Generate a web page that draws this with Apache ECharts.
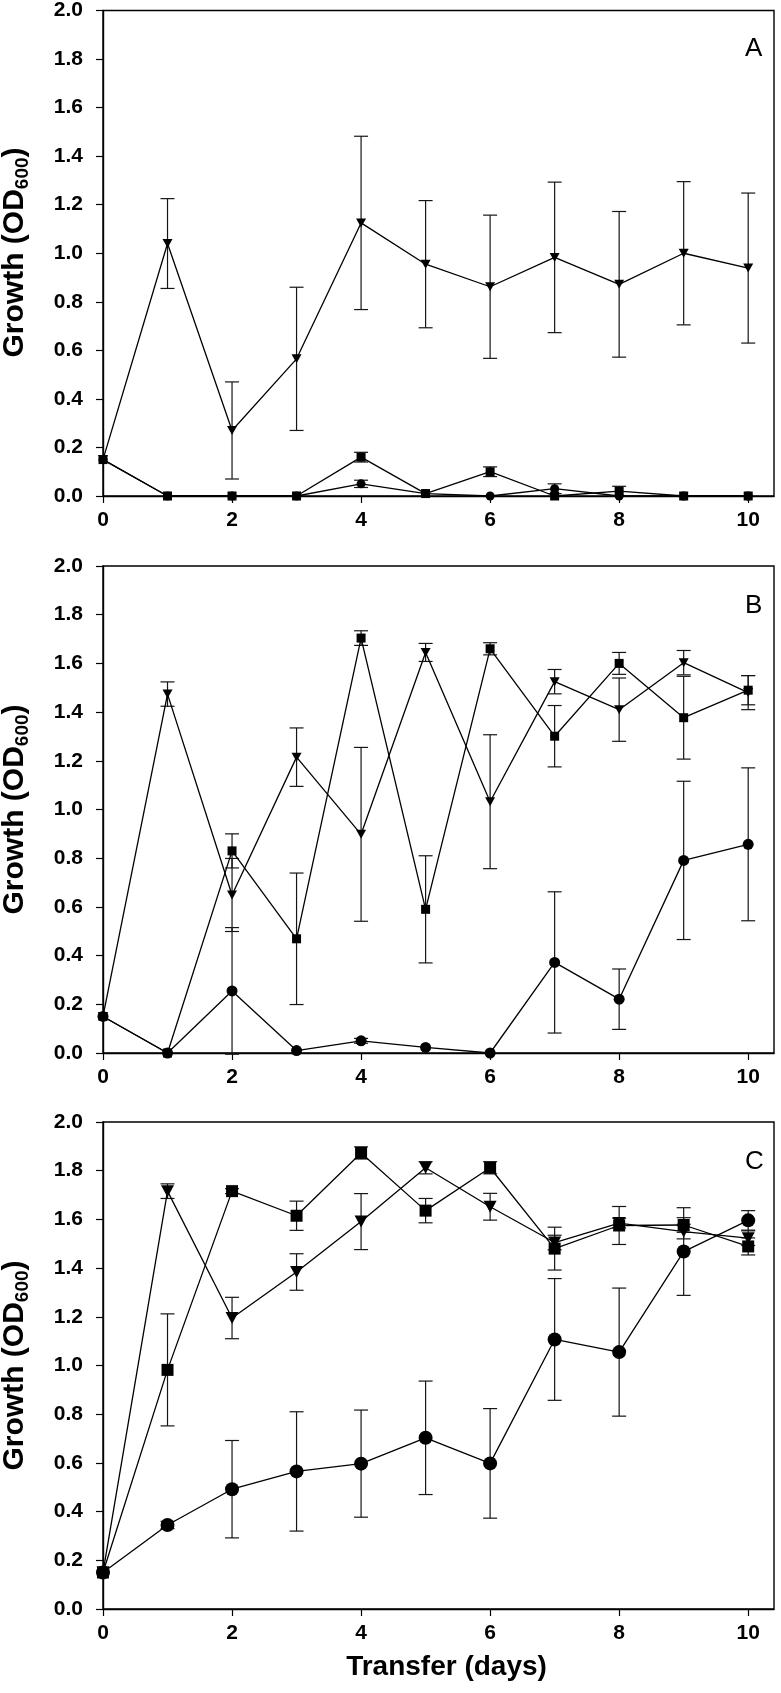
<!DOCTYPE html>
<html><head><meta charset="utf-8">
<script src="https://cdn.jsdelivr.net/npm/echarts@6/dist/echarts.min.js"></script>
<style>html,body{margin:0;padding:0;background:#fff}#c{width:781px;height:1693px}</style>
</head><body><div id="c"></div>
<script>
// ---- data ----
const days = [0,1,2,3,4,5,6,7,8,9,10];
const xTicks = [0,2,4,6,8,10];
const panelLabels = ['A','B','C'];
const yTitle = ['Growth (OD', '600', ')'];
const xTitle = 'Transfer (days)';

// Panel A
const aCircle   = [0.15,0.00,0.00,0.00,0.05,0.01,0.00,0.03,0.00,0.00,0.00];
const aCircleSd = [0,0,0,0,0.015,0,0,0.02,0,0,0];
const aSquare   = [0.15,0.00,0.00,0.00,0.16,0.01,0.10,0.00,0.02,0.00,0.00];
const aSquareSd = [0,0,0,0,0.02,0,0.02,0,0.02,0,0];
const aTri      = [0.15,1.04,0.27,0.565,1.125,0.955,0.862,0.983,0.872,1.00,0.939];
const aTriSd    = [0,0.185,0.20,0.295,0.357,0.262,0.295,0.31,0.30,0.295,0.309];

// Panel B
const bCircle   = [0.15,0.00,0.255,0.01,0.05,0.023,0.00,0.372,0.221,0.791,0.857];
const bCircleSd = [0,0,0.26,0,0.01,0,0,0.29,0.124,0.325,0.314];
const bSquare   = [0.15,0.00,0.83,0.469,1.704,0.59,1.66,1.301,1.60,1.377,1.49];
const bSquareSd = [0,0,0.07,0.27,0.03,0.22,0.025,0.126,0.045,0.17,0.06];
const bTri      = [0.15,1.474,0.649,1.215,0.898,1.645,1.032,1.525,1.41,1.603,1.48];
const bTriSd    = [0,0.05,0.15,0.12,0.357,0.037,0.275,0.05,0.13,0.05,0.07];

// Panel C
const cCircle   = [0.15,0.345,0.492,0.565,0.597,0.703,0.598,1.107,1.055,1.468,1.596];
const cCircleSd = [0,0.015,0.20,0.245,0.22,0.233,0.225,0.25,0.263,0.18,0.04];
const cSquare   = [0.15,0.982,1.716,1.615,1.873,1.636,1.812,1.48,1.575,1.577,1.489];
const cSquareSd = [0,0.23,0.01,0.06,0.025,0.05,0.025,0.088,0.078,0.03,0.035];
const cTri      = [0.15,1.716,1.195,1.384,1.591,1.812,1.652,1.505,1.585,1.55,1.523];
const cTriSd    = [0,0.03,0.085,0.075,0.115,0.025,0.055,0.03,0.02,0.03,0.03];

// ---- layout / style ----
const FONT = 'Liberation Sans, Arial, sans-serif';
const panels = [
  {series:[[aCircle,aCircleSd],[aSquare,aSquareSd],[aTri,aTriSd]], sizes:[9,9,[10,9]]},
  {series:[[bCircle,bCircleSd],[bSquare,bSquareSd],[bTri,bTriSd]], sizes:[11,9,[10,9]]},
  {series:[[cCircle,cCircleSd],[cSquare,cSquareSd],[cTri,cTriSd]], sizes:[14,12,[13,12]]}
];
const symbols = ['circle','rect','triangle'];
const rotations = [0,0,180];
const tops = [9,566,1122];
const gridLeft = 103, gridWidth = 671, gridHeight = 487;

const grids = [], xAxes = [], yAxes = [], series = [], graphics = [];

function errSeries(g, vals, sds){
  const data = [];
  vals.forEach((v,i)=>{ if (sds[i] > 0) data.push([days[i], v - sds[i], v + sds[i]]); });
  return {
    type:'custom', xAxisIndex:g, yAxisIndex:g, clip:false, z:1, animation:false,
    data, encode:{x:0, y:[1,2]},
    renderItem:(params, api)=>{
      const x = api.value(0);
      const lo = api.coord([x, api.value(1)]);
      const hi = api.coord([x, api.value(2)]);
      const w = 7;
      const style = {stroke:'#151515', lineWidth:1.2};
      return {type:'group', children:[
        {type:'line', shape:{x1:hi[0], y1:hi[1], x2:lo[0], y2:lo[1]}, style},
        {type:'line', shape:{x1:hi[0]-w, y1:hi[1], x2:hi[0]+w, y2:hi[1]}, style},
        {type:'line', shape:{x1:lo[0]-w, y1:lo[1], x2:lo[0]+w, y2:lo[1]}, style}
      ]};
    }
  };
}

panels.forEach((p, g)=>{
  grids.push({left:gridLeft, width:gridWidth, top:tops[g], height:gridHeight,
    show:true, borderColor:'#000', borderWidth:1.4, backgroundColor:'transparent'});
  xAxes.push({
    gridIndex:g, type:'value', min:0, max:10.4, interval:2,
    axisLine:{show:true, onZero:false, lineStyle:{color:'#000', width:1.4}},
    axisTick:{show:true, customValues:xTicks, length:7, lineStyle:{color:'#000', width:1.2}},
    axisLabel:{customValues:xTicks, margin:14, color:'#000', fontSize:21, fontWeight:'bold', fontFamily:FONT,
      formatter:v => (Math.abs(v - Math.round(v)) < 1e-6 ? String(Math.round(v)) : '')},
    splitLine:{show:false},
    name: g === 2 ? xTitle : '',
    nameLocation:'middle', nameGap:44,
    nameTextStyle:{color:'#000', fontSize:28, fontWeight:'bold', fontFamily:FONT, padding:[0,0,0,16]}
  });
  yAxes.push({
    gridIndex:g, type:'value', min:0, max:2, interval:0.2,
    axisLine:{show:true, onZero:false, lineStyle:{color:'#000', width:1.4}},
    axisTick:{show:true, length:7, lineStyle:{color:'#000', width:1.2}},
    axisLabel:{margin:20, color:'#000', fontSize:21, fontWeight:'bold', fontFamily:FONT,
      formatter:v => v.toFixed(1)},
    splitLine:{show:false}
  });
  p.series.forEach((s)=>{ series.push(errSeries(g, s[0], s[1])); });
  p.series.forEach((s, k)=>{
    series.push({
      type:'line', xAxisIndex:g, yAxisIndex:g, animation:false, clip:false,
      data: days.map((d,i)=>[d, s[0][i]]),
      symbol: symbols[k], symbolSize: p.sizes[k], symbolRotate: rotations[k], showAllSymbol:true,
      lineStyle:{color:'#000', width:1.3}, itemStyle:{color:'#000', borderWidth:0}, z:3 + k
    });
  });
  graphics.push({type:'text', left:745, top:tops[g] + 27,
    style:{text:panelLabels[g], fontSize:26, fontFamily:FONT, fill:'#000'}});
  graphics.push({type:'text', x:15, y:tops[g] + gridHeight/2, rotation:Math.PI/2,
    style:{
      text:'{a|' + yTitle[0] + '}{b|' + yTitle[1] + '}{a|' + yTitle[2] + '}',
      align:'center', verticalAlign:'middle',
      rich:{
        a:{fontSize:30, fontWeight:'bold', fontFamily:FONT, fill:'#000', lineHeight:34},
        b:{fontSize:19, fontWeight:'bold', fontFamily:FONT, fill:'#000', lineHeight:14, verticalAlign:'bottom'}
      }
    }});
});

const chart = echarts.init(document.getElementById('c'), null, {renderer:'canvas'});
chart.setOption({
  backgroundColor:'#fff', animation:false,
  grid:grids, xAxis:xAxes, yAxis:yAxes, series, graphic:graphics
});
</script></body></html>
